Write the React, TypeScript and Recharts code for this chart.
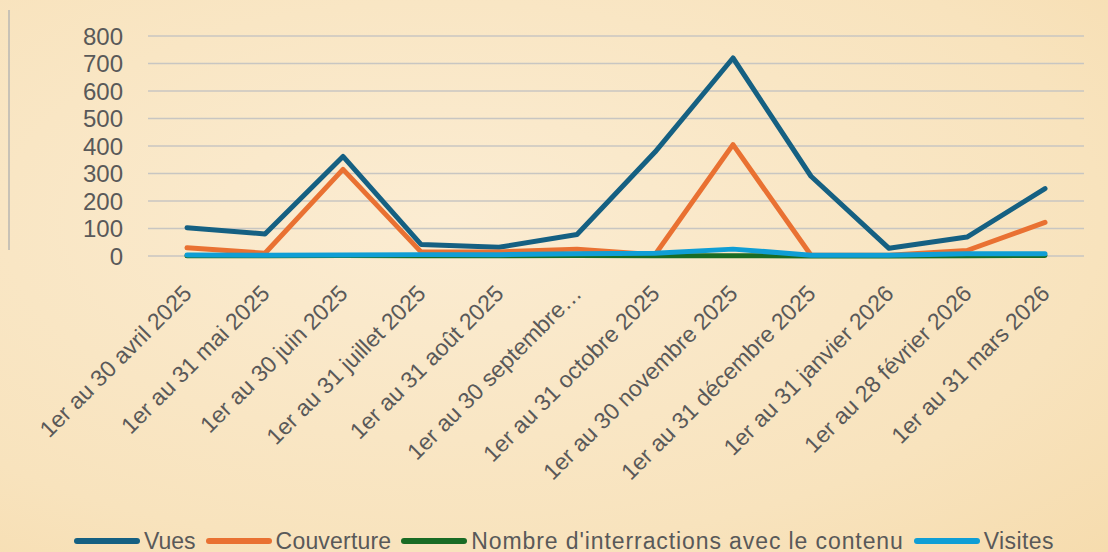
import React from "react";
import { LineChart, Line, XAxis, YAxis, CartesianGrid } from "recharts";

const categories = [
  "1er au 30 avril 2025",
  "1er au 31 mai 2025",
  "1er au 30 juin 2025",
  "1er au 31 juillet 2025",
  "1er au 31 août 2025",
  "1er au 30 septembre…",
  "1er au 31 octobre 2025",
  "1er au 30 novembre 2025",
  "1er au 31 décembre 2025",
  "1er au 31 janvier 2026",
  "1er au 28 février 2026",
  "1er au 31 mars 2026",
];
const vues = [103, 80, 362, 42, 32, 78, 378, 720, 290, 28, 69, 245];
const couverture = [30, 10, 315, 15, 15, 25, 5, 405, 3, 3, 20, 122];
const interactions = [1, 1, 2, 1, 1, 2, 1, 1, 0, 0, 1, 2];
const visites = [4, 3, 4, 5, 5, 8, 10, 25, 3, 3, 8, 8];
const yTicks = [0, 100, 200, 300, 400, 500, 600, 700, 800];

const seriesInfo = [
  { key: "vues", name: "Vues", color: "#156082", ls: 0 },
  { key: "couverture", name: "Couverture", color: "#E97132", ls: 0.2 },
  { key: "interactions", name: "Nombre d'interractions avec le contenu", color: "#196B24", ls: 0.9 },
  { key: "visites", name: "Visites", color: "#0F9ED5", ls: 0.4 },
];

const data = categories.map((c, i) => ({
  cat: c,
  vues: vues[i],
  couverture: couverture[i],
  interactions: interactions[i],
  visites: visites[i],
}));

const FONT = "'Liberation Sans', Arial, sans-serif";

const XTick = (props: any) => {
  const { x, y, payload } = props;
  const ax = x + 6;
  const ay = y + 39;
  return (
    <text
      x={ax}
      y={ay}
      transform={`rotate(-45, ${ax}, ${ay})`}
      textAnchor="end"
      fill="#595959"
      fontSize={23}
      fontFamily={FONT}
    >
      {payload.value}
    </text>
  );
};

export default function App() {
  return (
    <div
      style={{
        position: "absolute",
        left: 0,
        top: 0,
        width: 1108,
        height: 552,
        background: "radial-gradient(ellipse at 40% 40%, #fbecd2 0%, #f8e3bd 70%, #f6dcae 100%)",
        overflow: "hidden",
      }}
    >
      <div
        style={{
          position: "absolute",
          left: 8,
          top: 10,
          width: 2,
          height: 240,
          background: "#c8c2b6",
        }}
      />
      <LineChart
        width={1108}
        height={552}
        data={data}
        margin={{ top: 36, right: 24, left: 0, bottom: 0 }}
      >
        <CartesianGrid vertical={false} stroke="#c8c6c2" strokeWidth={1.6} />
        <XAxis
          dataKey="cat"
          height={296}
          axisLine={false}
          tickLine={false}
          tickSize={0}
          tickMargin={0}
          interval={0}
          padding={{ left: 39, right: 39 }}
          tick={<XTick />}
        />
        <YAxis
          width={148}
          domain={[0, 800]}
          ticks={yTicks}
          interval={0}
          axisLine={false}
          tickLine={false}
          tickSize={0}
          tickMargin={25}
          tick={{ fill: "#595959", fontSize: 24, fontFamily: FONT }}
        />
        {seriesInfo.map((s) => (
          <Line
            key={s.key}
            type="linear"
            dataKey={s.key}
            name={s.name}
            stroke={s.color}
            strokeWidth={5}
            strokeLinejoin="round"
            strokeLinecap="round"
            dot={false}
            activeDot={false}
            isAnimationActive={false}
          />
        ))}
      </LineChart>
      <div
        style={{
          position: "absolute",
          left: 73,
          top: 530,
          display: "flex",
          alignItems: "center",
          whiteSpace: "nowrap",
          fontFamily: FONT,
          fontSize: 23,
          color: "#595959",
          lineHeight: "22px",
        }}
      >
        {seriesInfo.map((s) => (
          <div key={s.key} style={{ display: "flex", alignItems: "center", marginRight: 9 }}>
            <svg width={68} height={10} style={{ marginRight: 3 }}>
              <line x1={4} y1={5} x2={64} y2={5} stroke={s.color} strokeWidth={6} strokeLinecap="round" />
            </svg>
            <span style={{ letterSpacing: s.ls }}>{s.name}</span>
          </div>
        ))}
      </div>
    </div>
  );
}
